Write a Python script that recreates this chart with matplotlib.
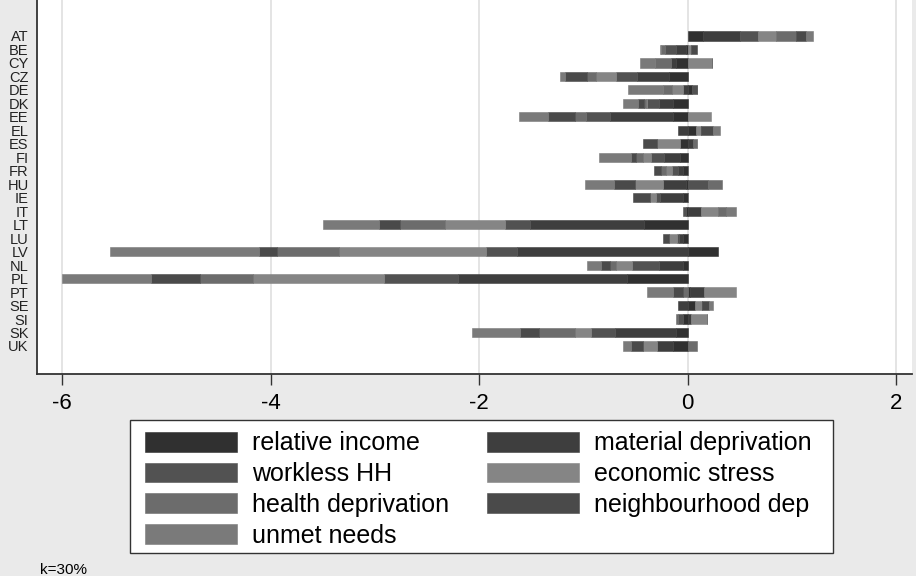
import numpy as np
import matplotlib.pyplot as plt
from matplotlib.patches import Rectangle

countries = ['AT', 'BE', 'CY', 'CZ', 'DE', 'DK', 'EE', 'EL', 'ES', 'FI', 'FR', 'HU',
             'IE', 'IT', 'LT', 'LU', 'LV', 'NL', 'PL', 'PT', 'SE', 'SI', 'SK', 'UK']

relative_income = [0.15, -0.02, -0.11, -0.18, 0.04, -0.14, -0.14, 0.075, -0.075, -0.07, -0.045, -0.02,
                   -0.05, -0.02, -0.42, -0.05, 0.29, -0.05, -0.585, 0.02, 0.07, -0.05, -0.11, -0.145]
material_deprivation = [0.35, -0.09, -0.05, -0.31, -0.05, -0.14, -0.61, -0.09, 0.05, -0.16, -0.05, -0.22,
                        -0.22, 0.13, -1.09, -0.03, -1.64, -0.23, -1.62, 0.135, -0.09, 0.03, -0.59, -0.15]
workless_hh = [0.17, -0.105, 0.0, -0.20, 0.05, -0.11, -0.23, 0.0, 0.0, -0.12, -0.055, 0.195,
               -0.03, -0.03, -0.24, -0.02, -0.29, -0.255, -0.71, 0.0, 0.0, -0.04, -0.23, 0.0]
economic_stress = [0.18, 0.035, 0.23, -0.19, -0.10, -0.015, 0.22, 0.055, -0.22, -0.08, -0.06, -0.265,
                   -0.065, 0.16, -0.58, -0.08, -1.41, -0.15, -1.25, 0.31, 0.065, 0.15, -0.15, -0.13]
health_deprivation = [0.19, -0.045, -0.155, -0.09, -0.085, -0.015, -0.105, 0.0, 0.04, -0.07, -0.05, 0.13,
                      0.0, 0.08, -0.43, 0.0, -0.60, -0.065, -0.51, -0.05, 0.0, -0.02, -0.345, 0.085]
neighbourhood_dep = [0.09, 0.055, 0.0, -0.21, 0.0, -0.06, -0.26, 0.11, -0.135, -0.04, -0.06, -0.20,
                     -0.16, 0.0, -0.20, -0.06, -0.17, -0.08, -0.47, -0.095, 0.065, 0.0, -0.18, -0.12]
unmet_needs = [0.07, -0.01, -0.14, -0.045, -0.34, -0.14, -0.275, 0.065, 0.0, -0.31, 0.0, -0.28,
               0.0, 0.095, -0.54, 0.0, -1.43, -0.14, -0.86, -0.25, 0.04, 0.0, -0.46, -0.08]

series = [
    ('relative income', relative_income, '#303030'),
    ('material deprivation', material_deprivation, '#3e3e3e'),
    ('workless HH', workless_hh, '#525252'),
    ('economic stress', economic_stress, '#858585'),
    ('health deprivation', health_deprivation, '#6c6c6c'),
    ('neighbourhood dep', neighbourhood_dep, '#4a4a4a'),
    ('unmet needs', unmet_needs, '#7a7a7a'),
]

W, H = 916, 576
fig = plt.figure(figsize=(W / 100, H / 100), dpi=100, facecolor='#eaeaea')
plt.rcParams['font.family'] = ['Liberation Sans', 'DejaVu Sans']

ax = fig.add_axes([37 / W, 1 - 374 / H, (912 - 37) / W, (374 - 0) / H])
ax.set_facecolor('white')

y = np.arange(len(countries))
pos = np.zeros(len(countries))
neg = np.zeros(len(countries))
handles = {}
# positive parts stack to the right of zero, negative parts to the left
for name, vals, col in series:
    v = np.array(vals)
    left = np.where(v >= 0, pos, neg)
    bars = ax.barh(y, v, left=left, height=0.68, color=col, edgecolor=col, linewidth=0.4, zorder=3)
    handles[name] = bars
    pos = pos + np.clip(v, 0, None)
    neg = neg + np.clip(v, None, 0)

ax.set_xlim(-6.24, 2.15)
ax.set_ylim(len(countries) - 1 + 2.08, -36 / 13.48)
ax.set_xticks([-6, -4, -2, 0, 2])
ax.set_xticklabels(['-6', '-4', '-2', '0', '2'])
ax.set_yticks(y)
ax.set_yticklabels(countries, color='#222222')
ax.tick_params(axis='y', length=0, pad=6, labelsize=10.5)
ax.tick_params(axis='x', length=8, width=1, color='#333333', pad=6, labelsize=16)
ax.grid(axis='x', color='#e4e4e4', linewidth=1.4, zorder=0)
for s in ['top', 'right']:
    ax.spines[s].set_visible(False)
for s in ['left', 'bottom']:
    ax.spines[s].set_color('#333333')
    ax.spines[s].set_linewidth(1.3)

# legend box drawn separately so its padding can differ by direction
fig.patches.append(Rectangle((130 / W, 1 - 553 / H), 703 / W, 133 / H, transform=fig.transFigure,
                             facecolor='white', edgecolor='#333333', linewidth=1.0, zorder=1))

order = ['relative income', 'workless HH', 'health deprivation', 'unmet needs',
         'material deprivation', 'economic stress', 'neighbourhood dep']
leg = fig.legend([handles[k] for k in order], order, ncol=2, loc='center',
                 bbox_to_anchor=(478.5 / W, 1 - 489.5 / H), fontsize=18, frameon=False,
                 handlelength=3.68, handleheight=0.85, handletextpad=0.6,
                 columnspacing=1.5, labelspacing=0.27, borderpad=0.3)
leg.set_zorder(2)

fig.text(40 / W, 1 - 570 / H, 'k=30%', fontsize=11, va='center', ha='left')

fig.savefig('out.png', dpi=100, facecolor=fig.get_facecolor())
